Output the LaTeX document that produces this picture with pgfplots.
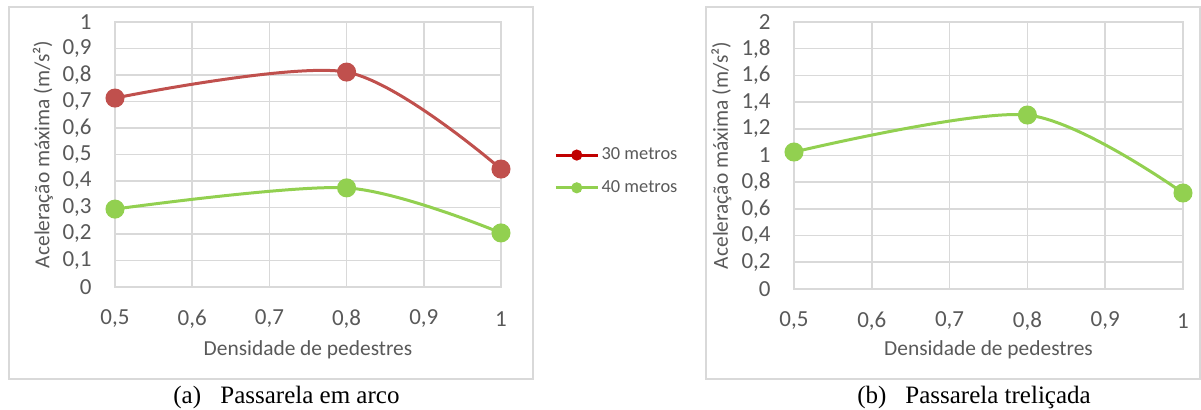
\documentclass[border=0pt]{standalone}
\usepackage{pgfplots}
\pgfplotsset{compat=1.18}
\usepackage{fontspec}
\setmainfont{Carlito}
\newfontfamily\timesf{Liberation Serif}
\definecolor{gridc}{HTML}{D9D9D9}
\definecolor{txt}{HTML}{595959}
\definecolor{redc}{HTML}{C0504D}
\definecolor{redl}{HTML}{C00000}
\definecolor{greenc}{HTML}{92D050}
\pgfplotsset{excel/.style={
  scale only axis,
  axis line style={gridc, line width=0.8pt},
  grid=major,
  major grid style={gridc, line width=0.8pt},
  major tick length=0pt,
  xmin=0.5, xmax=1,
  xtick={0.5,0.6,0.7,0.8,0.9,1},
  ticklabel style={font=\fontsize{11.5}{13}\selectfont, text=txt},
  xticklabel style={anchor=center, yshift=-16pt},
  yticklabel style={anchor=east, inner sep=0pt, xshift=-11.5pt},
  label style={font=\fontsize{10.7}{12.5}\selectfont, text=txt},
  ylabel style={at={(axis description cs:-0.1865,0.5)}, anchor=center},
  ylabel={Aceleração máxima (m/s²)},
  xlabel={Densidade de pedestres},
  every axis plot/.append style={smooth, line width=1.5pt, mark=*, mark size=4pt},
  legend image code/.code={\draw[mark repeat=2,mark phase=2,#1] plot coordinates {(0pt,0pt) (10.5pt,0pt) (21pt,0pt)};},
  /pgf/number format/.cd, use comma, assume math mode=true
}}
\begin{document}
\begin{tikzpicture}
\path[use as bounding box] (0,0) rectangle (600.5pt,205pt);
\draw[gridc, line width=0.6pt] (4.5pt,15.5pt) rectangle (266.5pt,201.5pt);
\draw[gridc, line width=0.6pt] (353pt,15.5pt) rectangle (600pt,201.5pt);
\begin{axis}[excel,
  at={(57.5pt,61.5pt)}, anchor=south west,
  width=193pt, height=132.5pt,
  ymin=0, ymax=1,
  ytick={0,0.1,0.2,0.3,0.4,0.5,0.6,0.7,0.8,0.9,1},
  xlabel style={at={(axis description cs:0.5,-0.2377)}, anchor=center},
  legend style={draw=none, fill=none, inner sep=0pt, at={(axis description cs:1.137,0.436)}, anchor=west,
    font=\fontsize{9.2}{11}\selectfont, text=txt, row sep=6.5pt,
    nodes={inner sep=1.2pt}},
  legend cell align=left,
]
\addlegendimage{redl, line width=1.5pt, mark=*, mark size=2pt, smooth}
\addlegendentry{30 metros}
\addlegendimage{greenc, line width=1.5pt, mark=*, mark size=2pt, smooth}
\addlegendentry{40 metros}
\addplot[redc, mark options={fill=redc, draw=redc}, forget plot] coordinates {(0.5,0.713) (0.8,0.811) (1,0.445)};
\addplot[greenc, mark options={fill=greenc, draw=greenc}, forget plot] coordinates {(0.5,0.294) (0.8,0.374) (1,0.204)};
\end{axis}
\begin{axis}[excel,
  at={(397pt,60.5pt)}, anchor=south west,
  width=194.5pt, height=133.5pt,
  ymin=0, ymax=2,
  ytick={0,0.2,0.4,0.6,0.8,1,1.2,1.4,1.6,1.8,2},
  xlabel style={at={(axis description cs:0.5,-0.228)}, anchor=center},
]
\addplot[greenc, mark options={fill=greenc, draw=greenc}] coordinates {(0.5,1.026) (0.8,1.303) (1,0.719)};
\end{axis}
\node[anchor=base west, inner sep=0pt, font=\timesf\fontsize{12.5}{14}\selectfont] at (86.5pt,3pt) {(a)};
\node[anchor=base west, inner sep=0pt, font=\timesf\fontsize{12.5}{14}\selectfont] at (110pt,3pt) {Passarela em arco};
\node[anchor=base west, inner sep=0pt, font=\timesf\fontsize{12.5}{14}\selectfont] at (428.5pt,3pt) {(b)};
\node[anchor=base west, inner sep=0pt, font=\timesf\fontsize{12.5}{14}\selectfont] at (452.5pt,3pt) {Passarela treliçada};
\end{tikzpicture}
\end{document}
